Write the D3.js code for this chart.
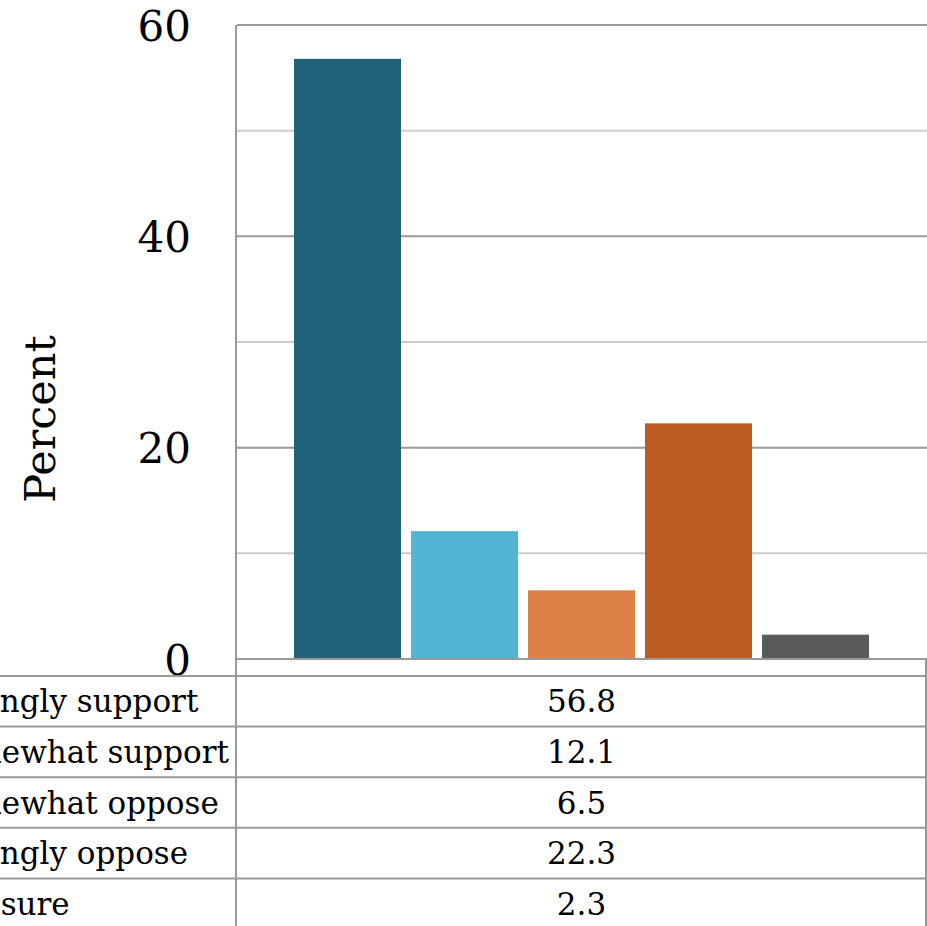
<!DOCTYPE html>
<html>
<head>
<meta charset="utf-8">
<script src="https://cdn.jsdelivr.net/npm/d3@7"></script>
<style>
  html, body { margin: 0; padding: 0; background: #fff; overflow: hidden; }
  svg { display: block; }
  text { font-family: "DejaVu Serif", serif; fill: #000; }
</style>
</head>
<body>
<svg id="chart" width="927" height="926"></svg>
<script>
// ---- data ----
const categories = ["Strongly support", "Somewhat support", "Somewhat oppose", "Strongly oppose", "Not sure"];
const values = [56.8, 12.1, 6.5, 22.3, 2.3];
const colors = ["#216279", "#53B5D5", "#DE8149", "#BA5B22", "#5A5A5A"];
const yTickLabels = [0, 20, 40, 60];
const gridValues = [10, 20, 30, 40, 50, 60];
const yLabel = "Percent";

// ---- layout ----
const W = 927, H = 926;
const plotLeft = 237, plotRight = 926, plotTop = 25, plotBottom = 659;
const tableTop = 676, rowH = 50.6;

const svg = d3.select("#chart");

const y = d3.scaleLinear().domain([0, 60]).range([plotBottom, plotTop]);
const x = d3.scaleBand().domain(categories).range([plotLeft, plotRight])
  .paddingInner(10 / 117).paddingOuter(0.487);

// gridlines
svg.append("g").selectAll("line").data(gridValues).join("line")
  .attr("x1", plotLeft).attr("x2", W)
  .attr("y1", d => y(d)).attr("y2", d => y(d))
  .attr("stroke", d => d % 20 === 0 ? "#999" : "#ccc")
  .attr("stroke-width", 2);

// bars
svg.append("g").selectAll("rect").data(values).join("rect")
  .attr("x", (d, i) => x(categories[i]))
  .attr("width", x.bandwidth())
  .attr("y", d => y(d))
  .attr("height", d => y(0) - y(d))
  .attr("fill", (d, i) => colors[i]);

// y axis labels
const yAxis = d3.axisLeft(y).tickValues(yTickLabels).tickSize(0).tickPadding(46);
const gy = svg.append("g").attr("transform", `translate(${plotLeft},0)`).call(yAxis);
gy.select(".domain").remove();
gy.selectAll("text").style("font-family", '"DejaVu Serif", serif')
  .style("font-size", "42px").attr("fill", "#000").attr("dy", "0.36em");

// y axis title
svg.append("text")
  .attr("transform", `translate(55,${(plotTop + plotBottom) / 2 + 77}) rotate(-90)`)
  .attr("text-anchor", "middle")
  .style("font-size", "43px")
  .text(yLabel);

// axis baseline
svg.append("line").attr("x1", plotLeft).attr("x2", W)
  .attr("y1", plotBottom).attr("y2", plotBottom)
  .attr("stroke", "#999").attr("stroke-width", 2);

// table header box right edge
svg.append("line").attr("x1", plotRight).attr("x2", plotRight)
  .attr("y1", plotBottom).attr("y2", H)
  .attr("stroke", "#999").attr("stroke-width", 2);

// table horizontal lines
const rowLines = d3.range(categories.length).map(i => tableTop + i * rowH);
svg.append("g").selectAll("line").data(rowLines).join("line")
  .attr("x1", 0).attr("x2", plotRight)
  .attr("y1", d => d).attr("y2", d => d)
  .attr("stroke", "#999").attr("stroke-width", 2);

// vertical axis / table divider
svg.append("line").attr("x1", plotLeft - 1).attr("x2", plotLeft - 1)
  .attr("y1", plotTop).attr("y2", H)
  .attr("stroke", "#999").attr("stroke-width", 2);

// top border
svg.append("line").attr("x1", plotLeft).attr("x2", W)
  .attr("y1", plotTop).attr("y2", plotTop)
  .attr("stroke", "#999").attr("stroke-width", 2);

// table row labels (left aligned, clipped by page edge)
const labelG = svg.append("g");
const probe = labelG.append("text").style("font-size", "31px").text(categories[1]);
const labelX = 229 - probe.node().getComputedTextLength();
probe.remove();
labelG.selectAll("text").data(categories).join("text")
  .attr("x", labelX)
  .attr("y", (d, i) => tableTop + i * rowH + rowH / 2)
  .attr("dy", "0.36em")
  .style("font-size", "31px")
  .text(d => d);

// table values
svg.append("g").selectAll("text").data(values).join("text")
  .attr("x", (plotLeft + plotRight) / 2)
  .attr("y", (d, i) => tableTop + i * rowH + rowH / 2)
  .attr("dy", "0.36em")
  .attr("text-anchor", "middle")
  .style("font-size", "31px")
  .text(d => d3.format(".1f")(d));
</script>
</body>
</html>
